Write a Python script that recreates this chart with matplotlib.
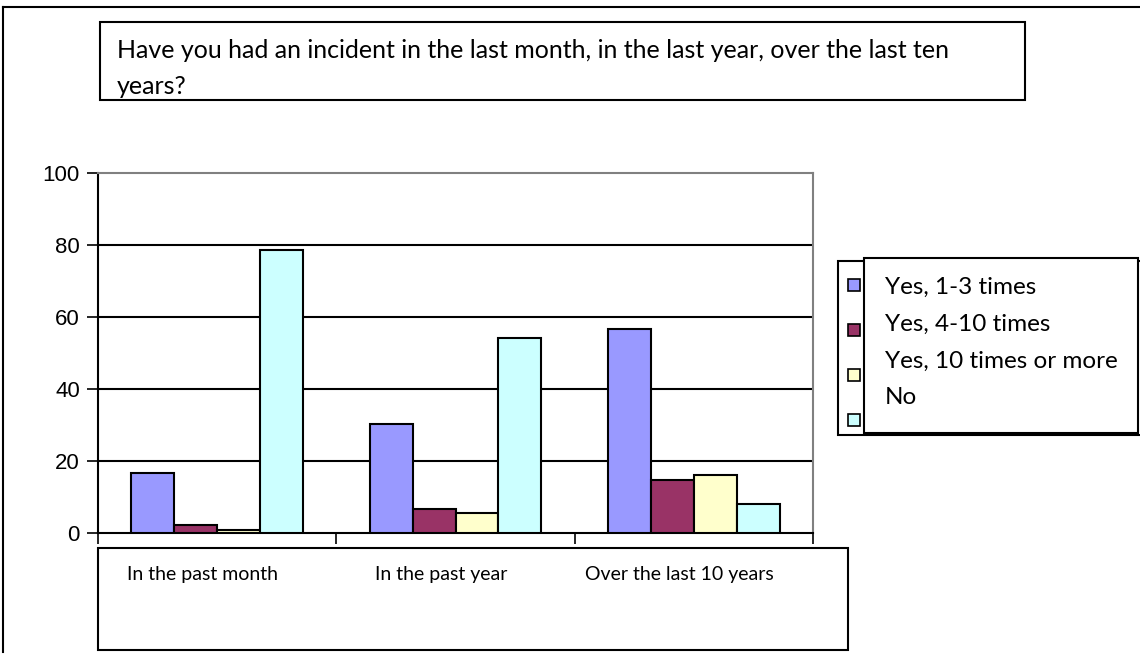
import matplotlib
matplotlib.use("Agg")
import matplotlib.pyplot as plt
import matplotlib.patches as mpatches
from matplotlib.lines import Line2D
import numpy as np

W, H = 1140, 654

categories = ["In the past month", "In the past year", "Over the last 10 years"]
series = ["Yes, 1-3 times", "Yes, 4-10 times", "Yes, 10 times or more", "No"]
values = {
    "Yes, 1-3 times": [16.6, 30.4, 56.7],
    "Yes, 4-10 times": [2.1, 6.7, 14.6],
    "Yes, 10 times or more": [0.8, 5.5, 16.0],
    "No": [78.5, 54.1, 8.1],
}
colors = ["#9999FF", "#993366", "#FFFFCC", "#CCFFFF"]
yticks = [0, 20, 40, 60, 80, 100]
title_lines = ["Have you had an incident in the last month, in the last year, over the last ten",
               "years?"]


def fx(px):
    return px / W


def fy(py):
    return 1 - py / H


def box(fig, x0, y0, x1, y1, lw=1.5, fc="none", z=1):
    r = mpatches.Rectangle((fx(x0), fy(y1)), fx(x1) - fx(x0), fy(y0) - fy(y1),
                           transform=fig.transFigure, fill=(fc != "none"),
                           facecolor=fc, edgecolor="black", linewidth=lw, zorder=z)
    fig.patches.append(r)


fig = plt.figure(figsize=(W / 100, H / 100), dpi=100)

# outer border (top and left visible)
fig.lines.append(Line2D([fx(3), fx(3)], [fy(652), fy(7)], transform=fig.transFigure,
                        color="black", linewidth=1.5))
fig.lines.append(Line2D([fx(3), fx(1140)], [fy(7), fy(7)], transform=fig.transFigure,
                        color="black", linewidth=1.5))

# title box
box(fig, 100, 22, 1025, 100)
for i, line in enumerate(title_lines):
    fig.text(fx(117), fy(50 + i * 37), line, fontsize=18, family="Lato",
             va="center", ha="left")

ax = fig.add_axes([fx(98), fy(533), fx(813) - fx(98), fy(173) - fy(533)])
x = np.arange(len(categories))
bw = 0.18
for i, s in enumerate(series):
    ax.bar(x + (i - 1.5) * bw, values[s], bw, color=colors[i], edgecolor="black",
           linewidth=1.5, zorder=3)

ax.set_xlim(-0.5, 2.5)
ax.set_ylim(0, 100)
ax.set_yticks(yticks)
ax.set_yticklabels([str(v) for v in yticks], fontsize=16, family="Liberation Sans")
ax.set_xticks([-0.5, 0.5, 1.5, 2.5])
ax.set_xticklabels([])
ax.tick_params(axis="x", direction="out", length=8, width=1.2)
ax.tick_params(axis="y", direction="out", length=8, width=1.2, pad=5)
for v in yticks[1:-1]:
    ax.axhline(v, color="black", linewidth=1.5, zorder=1)
ax.spines["top"].set_color("#808080")
ax.spines["right"].set_color("#808080")
for sp in ax.spines.values():
    sp.set_linewidth(1.5)

# category label box
box(fig, 98, 548, 848, 650)
for i, c in enumerate(categories):
    ax.text(i - 0.06, -0.115, c, transform=ax.get_xaxis_transform(), fontsize=14,
            family="Lato", ha="center", va="center")

# legend, drawn like the original
box(fig, 838, 261, 1145, 435, fc="white", z=1)
for i, s in enumerate(series):
    yc = 285 + i * 45
    box(fig, 848, yc - 6, 860, yc + 6, lw=1.2, fc=colors[i], z=2)
box(fig, 864, 258, 1138, 433, fc="white", z=3)
for i, s in enumerate(series):
    fig.text(fx(885), fy(287 + i * 37), s, fontsize=17.5, family="Lato", va="center",
             ha="left", zorder=4)

fig.savefig("out.png", dpi=100)
